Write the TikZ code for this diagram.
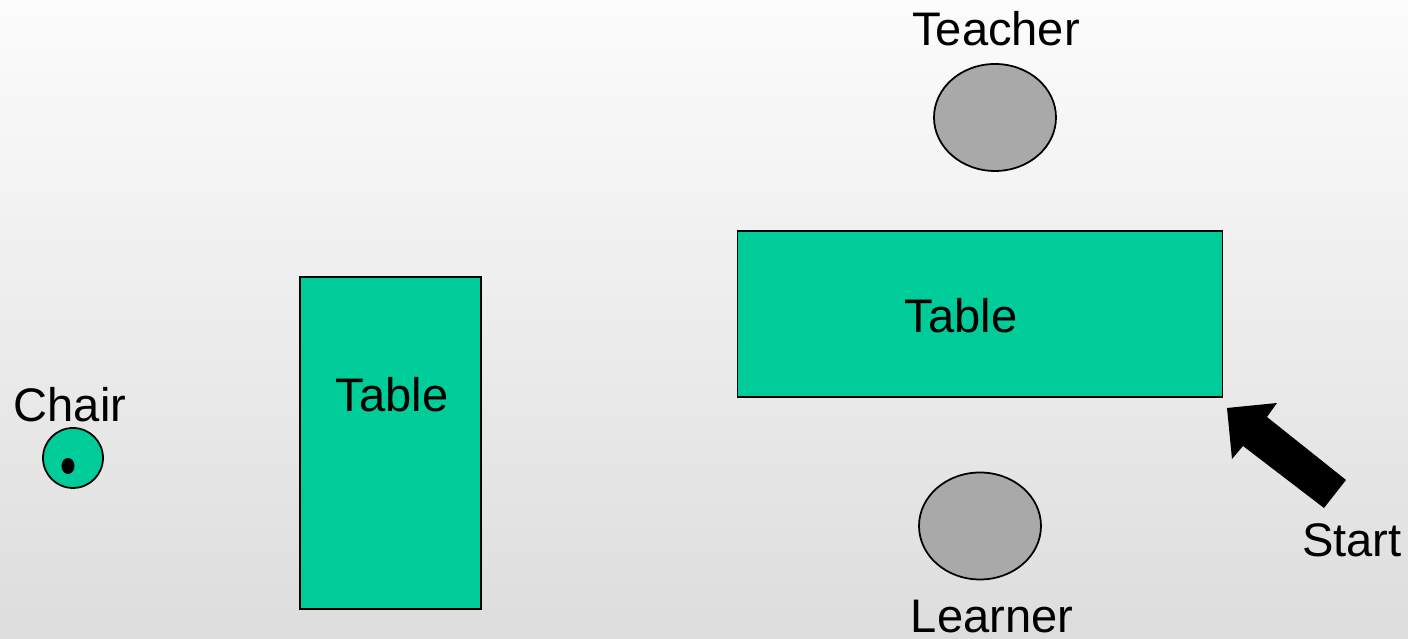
\documentclass[tikz,border=0pt]{standalone}
\usepackage{fontspec}
\setmainfont{Liberation Sans}
\usepackage{tikz}
\usetikzlibrary{shapes.geometric}

\definecolor{tablegreen}{HTML}{00CC99}
\definecolor{persongray}{HTML}{A9A9A9}
\definecolor{bgtop}{HTML}{FCFCFC}
\definecolor{bgbottom}{HTML}{DDDDDD}

\tikzset{
  desk/.style={draw=black, line width=0.5pt, fill=tablegreen, inner sep=0pt},
  person/.style={ellipse, draw=black, line width=0.5pt, fill=persongray,
    minimum width=1.22cm, minimum height=1.07cm, inner sep=0pt},
  tag/.style={font=\fontsize{13.4pt}{16pt}\selectfont, inner sep=0pt, anchor=base}
}

\begin{document}
\begin{tikzpicture}[scale=1.0]
    % room floor
    \shade[top color=bgtop, bottom color=bgbottom] (0,0) rectangle (14.08,6.39);
    \useasboundingbox (0,0) rectangle (14.08,6.39);
    % chair on the left
    \node[tag] (chairlbl) at (0.70,2.17) {Chair};
    \node[circle, draw=black, line width=0.5pt, fill=tablegreen,
      minimum size=0.60cm, inner sep=0pt] (chair) at (0.73,1.81) {};
    \fill[black] (0.68,1.73) ellipse [x radius=0.065, y radius=0.08];
    % upright table
    \node[desk, minimum width=1.81cm, minimum height=3.32cm] (ltable) at (3.905,1.96) {};
    \node[tag] (ltablelbl) at (3.92,2.27) {Table};
    % long table with teacher and learner
    \node[desk, minimum width=4.85cm, minimum height=1.66cm] (rtable) at (9.80,3.25) {};
    \node[tag] (rtablelbl) at (9.61,3.06) {Table};
    \node[person] (teacher) at (9.95,5.215) {};
    \node[tag] (teacherlbl) at (9.96,5.93) {Teacher};
    \node[person] (learner) at (9.80,1.13) {};
    \node[tag] (learnerlbl) at (9.92,0.06) {Learner};
    % start marker
    \node[tag] (startlbl) at (13.52,0.82) {Start};
    \fill[black] (12.27,2.31) -- (12.77,2.36) -- (12.67,2.22) -- (13.46,1.59)
      -- (13.24,1.31) -- (12.43,1.93) -- (12.32,1.80) -- cycle;
  \end{tikzpicture}
\end{document}
